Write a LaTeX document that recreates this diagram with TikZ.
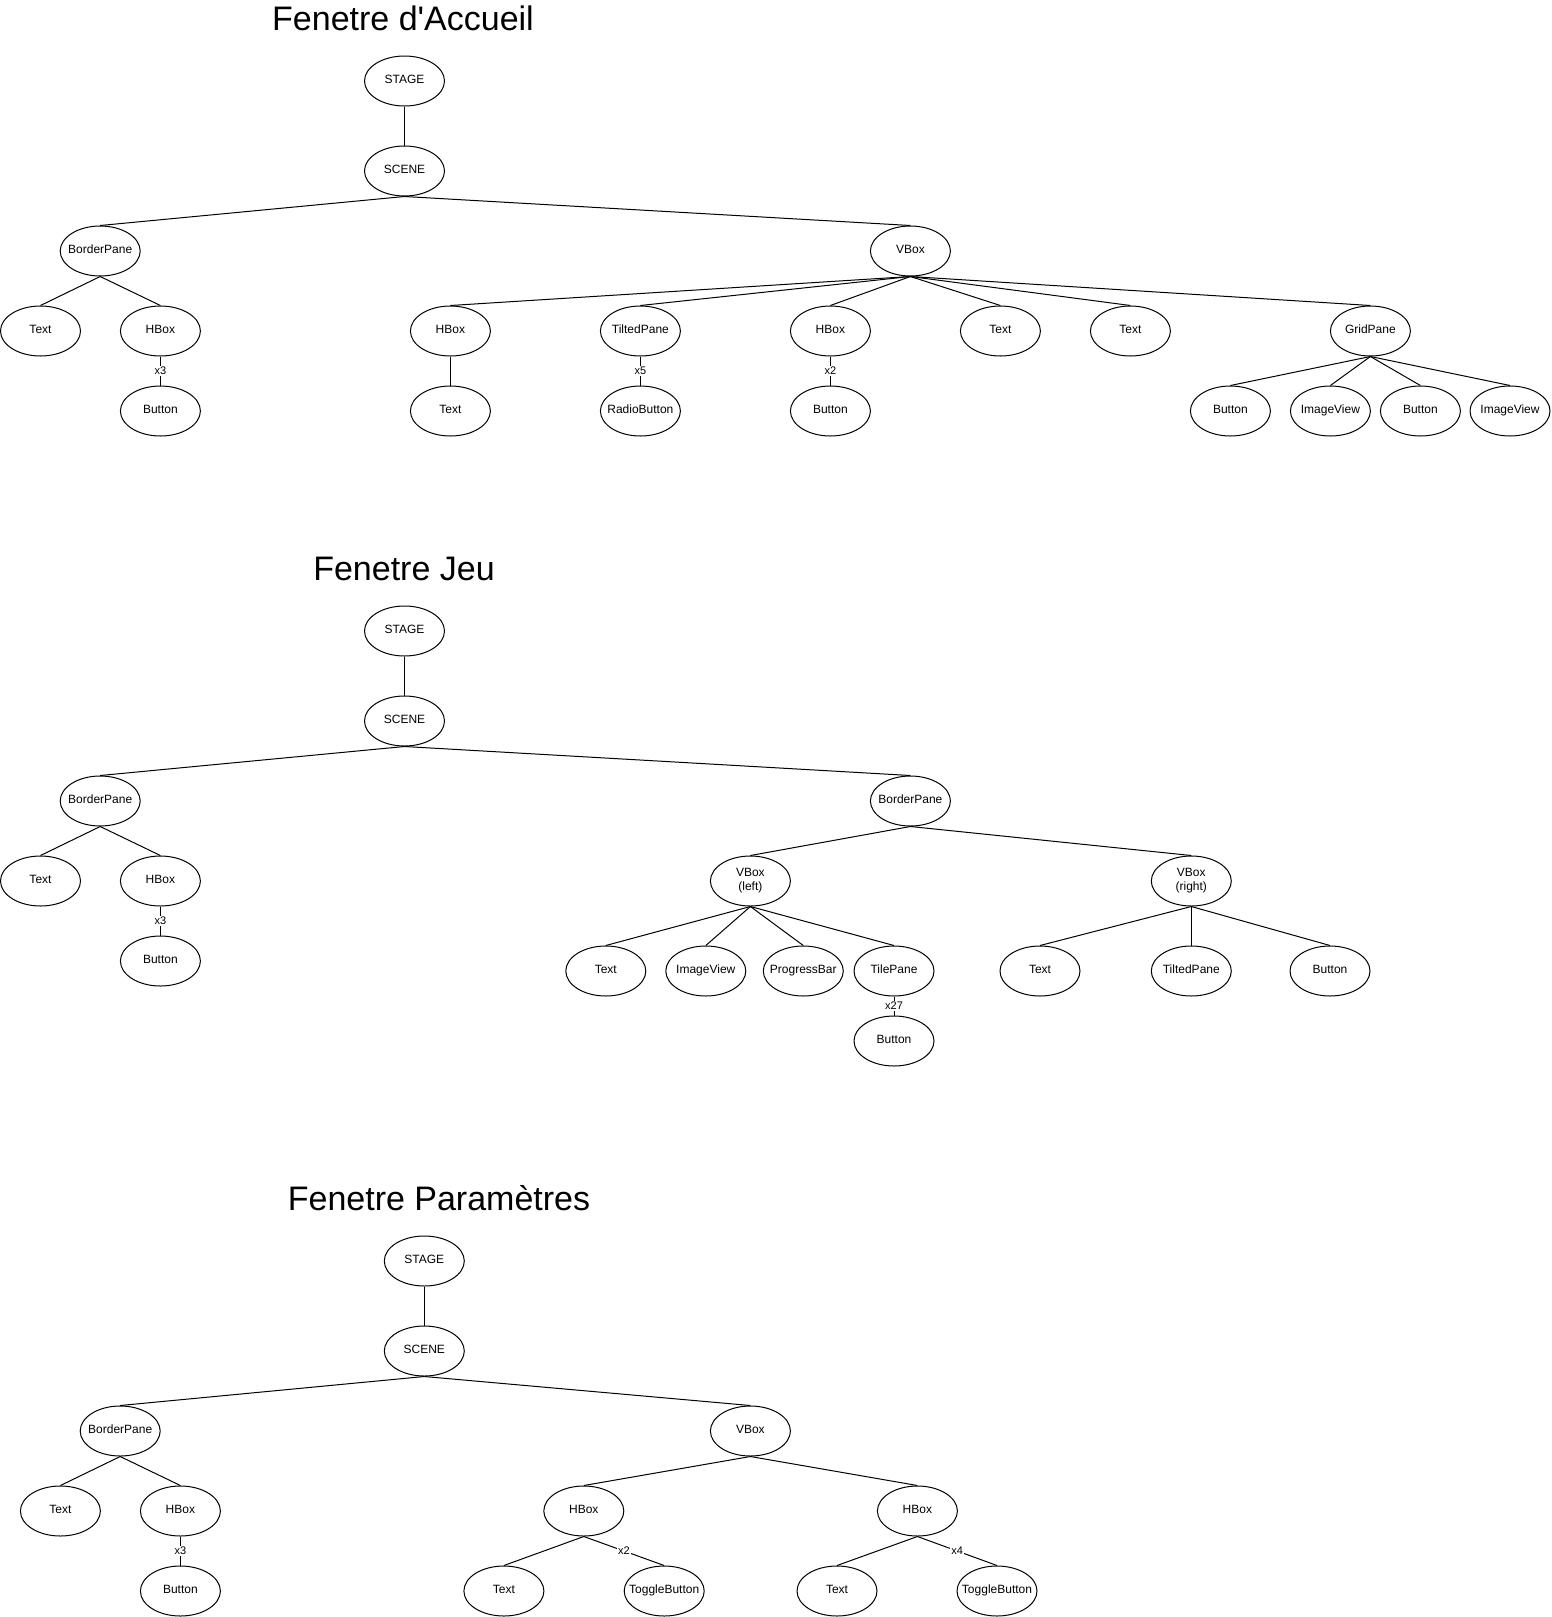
\documentclass[tikz,border=0pt]{standalone}
\usepackage{fontspec}
\setmainfont{Liberation Sans}[Ligatures=TeXOff]
\usetikzlibrary{shapes.geometric}
% label text of a tree node: zero width so the ellipse keeps its fixed size
\newcommand\nodetext[1]{\makebox[0pt]{\fontsize{12}{14}\selectfont\begin{tabular}{@{}c@{}}#1\end{tabular}}}
\tikzset{
  obj/.style={draw, ellipse, minimum width=80pt, minimum height=50pt, inner sep=0pt, line width=1pt},
  link/.style={line width=1pt},
  mult/.style={fill=white, inner sep=1pt, font=\fontsize{11}{13}\selectfont},
  wintitle/.style={anchor=base, inner sep=0pt, font=\fontsize{34}{40}\selectfont}
}
\begin{document}
\begin{tikzpicture}[x=1pt,y=-1pt]
\useasboundingbox (0,0) rectangle (1551,1617);

% ---------- Fenetre d'Accueil ----------
\node[wintitle] (atitle) at (403,30) {Fenetre d'Accueil};
\node[obj] (astage) at (404.5,81)  {\nodetext{STAGE}};
\node[obj] (ascene) at (404.5,171) {\nodetext{SCENE}};
\node[obj] (abp)    at (100.2,251) {\nodetext{BorderPane}};
\node[obj] (atext)  at (40.5,331)  {\nodetext{Text}};
\node[obj] (ahbox)  at (160.4,331) {\nodetext{HBox}};
\node[obj] (abtn)   at (160.4,411) {\nodetext{Button}};
\node[obj] (avbox)  at (910.4,251) {\nodetext{VBox}};
\node[obj] (ahbox2) at (450.4,331) {\nodetext{HBox}};
\node[obj] (atext2) at (450.4,411) {\nodetext{Text}};
\node[obj] (atilt)  at (640.4,331) {\nodetext{TiltedPane}};
\node[obj] (aradio) at (640.4,411) {\nodetext{RadioButton}};
\node[obj] (ahbox3) at (830.4,331) {\nodetext{HBox}};
\node[obj] (abtn3)  at (830.4,411) {\nodetext{Button}};
\node[obj] (atext3) at (1000.4,331) {\nodetext{Text}};
\node[obj] (atext4) at (1130.4,331) {\nodetext{Text}};
\node[obj] (agrid)  at (1370.4,331) {\nodetext{GridPane}};
\node[obj] (agb1)   at (1230.4,411) {\nodetext{Button}};
\node[obj] (agi1)   at (1330.4,411) {\nodetext{ImageView}};
\node[obj] (agb2)   at (1420.4,411) {\nodetext{Button}};
\node[obj] (agi2)   at (1510,411)   {\nodetext{ImageView}};

\draw[link] (astage.south) -- (ascene.north);
\draw[link] (ascene.south) -- (abp.north);
\draw[link] (ascene.south) -- (avbox.north);
\draw[link] (abp.south) -- (atext.north);
\draw[link] (abp.south) -- (ahbox.north);
\draw[link] (ahbox.south) -- node[mult]{x3} (abtn.north);
\draw[link] (avbox.south) -- (ahbox2.north);
\draw[link] (avbox.south) -- (atilt.north);
\draw[link] (avbox.south) -- (ahbox3.north);
\draw[link] (avbox.south) -- (atext3.north);
\draw[link] (avbox.south) -- (atext4.north);
\draw[link] (avbox.south) -- (agrid.north);
\draw[link] (ahbox2.south) -- (atext2.north);
\draw[link] (atilt.south) -- node[mult]{x5} (aradio.north);
\draw[link] (ahbox3.south) -- node[mult]{x2} (abtn3.north);
\draw[link] (agrid.south) -- (agb1.north);
\draw[link] (agrid.south) -- (agi1.north);
\draw[link] (agrid.south) -- (agb2.north);
\draw[link] (agrid.south) -- (agi2.north);

% ---------- Fenetre Jeu ----------
\node[wintitle] (btitle) at (404,580) {Fenetre Jeu};
\node[obj] (bstage) at (404.5,631) {\nodetext{STAGE}};
\node[obj] (bscene) at (404.5,721) {\nodetext{SCENE}};
\node[obj] (bbp)    at (100.2,801) {\nodetext{BorderPane}};
\node[obj] (btext)  at (40.5,881)  {\nodetext{Text}};
\node[obj] (bhbox)  at (160.4,881) {\nodetext{HBox}};
\node[obj] (bbtn)   at (160.4,961) {\nodetext{Button}};
\node[obj] (bbp2)   at (910.4,801) {\nodetext{BorderPane}};
\node[obj] (bvl)    at (750.4,881) {\nodetext{VBox\\(left)}};
\node[obj] (bvr)    at (1191.3,881) {\nodetext{VBox\\(right)}};
\node[obj] (bt1)    at (605.8,971) {\nodetext{Text}};
\node[obj] (biv)    at (705.8,971) {\nodetext{ImageView}};
\node[obj] (bpb)    at (803.3,971) {\nodetext{ProgressBar}};
\node[obj] (btp)    at (894,971)   {\nodetext{TilePane}};
\node[obj] (btpb)   at (894,1041)  {\nodetext{Button}};
\node[obj] (bt2)    at (1040,971)  {\nodetext{Text}};
\node[obj] (btilt)  at (1191.3,971) {\nodetext{TiltedPane}};
\node[obj] (bbtn2)  at (1330,971)  {\nodetext{Button}};

\draw[link] (bstage.south) -- (bscene.north);
\draw[link] (bscene.south) -- (bbp.north);
\draw[link] (bscene.south) -- (bbp2.north);
\draw[link] (bbp.south) -- (btext.north);
\draw[link] (bbp.south) -- (bhbox.north);
\draw[link] (bhbox.south) -- node[mult]{x3} (bbtn.north);
\draw[link] (bbp2.south) -- (bvl.north);
\draw[link] (bbp2.south) -- (bvr.north);
\draw[link] (bvl.south) -- (bt1.north);
\draw[link] (bvl.south) -- (biv.north);
\draw[link] (bvl.south) -- (bpb.north);
\draw[link] (bvl.south) -- (btp.north);
\draw[link] (btp.south) -- node[mult]{x27} (btpb.north);
\draw[link] (bvr.south) -- (bt2.north);
\draw[link] (bvr.south) -- (btilt.north);
\draw[link] (bvr.south) -- (bbtn2.north);

% ---------- Fenetre Paramètres ----------
\node[wintitle] (ctitle) at (439,1210) {Fenetre Paramètres};
\node[obj] (cstage) at (424.3,1261) {\nodetext{STAGE}};
\node[obj] (cscene) at (424.3,1351) {\nodetext{SCENE}};
\node[obj] (cbp)    at (120.2,1431) {\nodetext{BorderPane}};
\node[obj] (ctext)  at (60.4,1511)  {\nodetext{Text}};
\node[obj] (chbox)  at (180.4,1511) {\nodetext{HBox}};
\node[obj] (cbtn)   at (180.4,1591) {\nodetext{Button}};
\node[obj] (cvbox)  at (750.4,1431) {\nodetext{VBox}};
\node[obj] (ch1)    at (583.8,1511) {\nodetext{HBox}};
\node[obj] (ch2)    at (917.4,1511) {\nodetext{HBox}};
\node[obj] (ct1)    at (503.9,1591) {\nodetext{Text}};
\node[obj] (ctb1)   at (664.2,1591) {\nodetext{ToggleButton}};
\node[obj] (ct2)    at (837,1591)   {\nodetext{Text}};
\node[obj] (ctb2)   at (997,1591)   {\nodetext{ToggleButton}};

\draw[link] (cstage.south) -- (cscene.north);
\draw[link] (cscene.south) -- (cbp.north);
\draw[link] (cscene.south) -- (cvbox.north);
\draw[link] (cbp.south) -- (ctext.north);
\draw[link] (cbp.south) -- (chbox.north);
\draw[link] (chbox.south) -- node[mult]{x3} (cbtn.north);
\draw[link] (cvbox.south) -- (ch1.north);
\draw[link] (cvbox.south) -- (ch2.north);
\draw[link] (ch1.south) -- (ct1.north);
\draw[link] (ch1.south) -- node[mult]{x2} (ctb1.north);
\draw[link] (ch2.south) -- (ct2.north);
\draw[link] (ch2.south) -- node[mult]{x4} (ctb2.north);
\end{tikzpicture}
\end{document}
